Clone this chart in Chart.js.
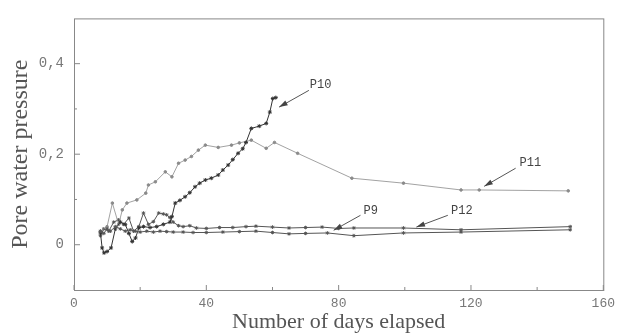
<!DOCTYPE html>
<html>
<head>
<meta charset="utf-8">
<script src="https://cdn.jsdelivr.net/npm/chart.js@4.4.0/dist/chart.umd.min.js"></script>
<style>
  html, body { margin: 0; padding: 0; background: #fff; }
  #wrap { width: 621px; height: 335px; }
</style>
</head>
<body>
<div id="wrap"><canvas id="pwp-chart" width="621" height="335"></canvas></div>
<script>
// readings (days, pore water pressure)
const p9Days = [8, 9, 10, 11, 12.5, 14, 15.5, 17, 18.5, 20, 22, 24, 26, 28, 30, 33, 36, 40, 45, 50, 55, 60, 65, 70, 76.6, 84.6, 99.6, 117, 150];
const p9Values = [0.03, 0.025, 0.035, 0.03, 0.04, 0.035, 0.03, 0.033, 0.03, 0.028, 0.03, 0.028, 0.03, 0.029, 0.028, 0.028, 0.027, 0.027, 0.028, 0.029, 0.03, 0.027, 0.024, 0.025, 0.026, 0.02, 0.026, 0.028, 0.033];

const p10Days = [8, 8.5, 9.1, 10, 11.2, 12.5, 14, 15.5, 16.6, 17.6, 18.6, 19.6, 21, 23, 25, 27, 29, 29.6, 30.6, 32, 33.6, 35, 36.6, 38, 39.7, 41.5, 43.6, 45, 46.6, 48, 49.6, 51, 52, 53.6, 56, 58.1, 59.2, 60.1, 61];
const p10Values = [0.026, -0.007, -0.018, -0.015, -0.007, 0.035, 0.05, 0.045, 0.025, 0.007, 0.015, 0.037, 0.04, 0.038, 0.04, 0.045, 0.05, 0.062, 0.092, 0.098, 0.106, 0.115, 0.128, 0.136, 0.143, 0.147, 0.154, 0.165, 0.176, 0.188, 0.202, 0.212, 0.226, 0.257, 0.262, 0.268, 0.293, 0.323, 0.325];

const p11Days = [8, 10, 11.6, 13.5, 14.6, 16, 19, 21.7, 22.5, 24.6, 27.6, 29.6, 31.6, 33.6, 35.5, 37.6, 39.7, 43.6, 47.6, 50, 53.6, 58.1, 60.6, 67.6, 84, 99.6, 117, 122.5, 149.4];
const p11Values = [0.03, 0.04, 0.092, 0.045, 0.077, 0.092, 0.099, 0.114, 0.132, 0.139, 0.161, 0.15, 0.18, 0.187, 0.195, 0.209, 0.22, 0.215, 0.22, 0.225, 0.231, 0.213, 0.226, 0.202, 0.147, 0.136, 0.121, 0.121, 0.119];

const p12Days = [8, 9, 10.5, 12, 13.5, 15, 16.6, 18, 19.6, 21, 22.5, 24, 25.6, 27, 28, 29, 30, 31.6, 33, 35, 37, 40, 44, 48, 52, 55, 60, 65, 70, 75, 80, 84.6, 99.6, 117, 150];
const p12Values = [0.02, 0.035, 0.03, 0.05, 0.055, 0.045, 0.059, 0.03, 0.04, 0.07, 0.045, 0.051, 0.07, 0.068, 0.066, 0.06, 0.05, 0.042, 0.04, 0.042, 0.037, 0.036, 0.038, 0.038, 0.04, 0.041, 0.039, 0.037, 0.038, 0.039, 0.036, 0.037, 0.037, 0.033, 0.04];

const xTicks = [0, 40, 80, 120, 160];
const xMinorTicks = [20, 60, 100, 140];
const yTicks = [0, 0.2, 0.4];
const yTickLabels = ['0', '0,2', '0,4'];
const yMinorTicks = [0.1, 0.3];

// label text, text anchor, arrow tail, arrow tip (data units)
const labelNames = ['P10', 'P11', 'P9', 'P12'];
const labelAt = [[71.3, 0.354], [134.7, 0.18], [87.5, 0.074], [114, 0.074]];
const arrowFrom = [[71, 0.341], [133.5, 0.169], [86.6, 0.065], [113, 0.065]];
const arrowTo = [[62, 0.304], [124, 0.129], [78.5, 0.032], [103.5, 0.039]];

function pts(days, vals) {
  return days.map((d, i) => ({ x: d, y: vals[i] }));
}

const framePlugin = {
  id: 'frame',
  afterDraw(chart) {
    const { ctx, chartArea: a, scales: { x, y } } = chart;
    ctx.save();
    ctx.strokeStyle = '#888';
    ctx.lineWidth = 1;
    ctx.strokeRect(a.left + 0.5, a.top + 0.5, a.right - a.left, a.bottom - a.top);

    // inward ticks
    ctx.beginPath();
    xTicks.forEach(v => { const px = x.getPixelForValue(v); ctx.moveTo(px, a.bottom); ctx.lineTo(px, a.bottom - 5); });
    xMinorTicks.forEach(v => { const px = x.getPixelForValue(v); ctx.moveTo(px, a.bottom); ctx.lineTo(px, a.bottom - 3); });
    yTicks.forEach(v => { const py = y.getPixelForValue(v); ctx.moveTo(a.left, py); ctx.lineTo(a.left + 6, py); });
    yMinorTicks.forEach(v => { const py = y.getPixelForValue(v); ctx.moveTo(a.left, py); ctx.lineTo(a.left + 3, py); });
    ctx.stroke();

    // series labels with arrows
    ctx.fillStyle = '#444';
    ctx.strokeStyle = '#555';
    ctx.font = '12px "Liberation Mono", monospace';
    ctx.textBaseline = 'middle';
    labelNames.forEach((name, i) => {
      const tx = x.getPixelForValue(labelAt[i][0]);
      const ty = y.getPixelForValue(labelAt[i][1]);
      ctx.fillText(name, tx, ty);
      const fx = x.getPixelForValue(arrowFrom[i][0]), fy = y.getPixelForValue(arrowFrom[i][1]);
      const ex = x.getPixelForValue(arrowTo[i][0]), ey = y.getPixelForValue(arrowTo[i][1]);
      ctx.beginPath();
      ctx.moveTo(fx, fy);
      ctx.lineTo(ex, ey);
      ctx.stroke();
      const ang = Math.atan2(ey - fy, ex - fx);
      ctx.beginPath();
      ctx.moveTo(ex, ey);
      ctx.lineTo(ex - 9 * Math.cos(ang - 0.3), ey - 9 * Math.sin(ang - 0.3));
      ctx.lineTo(ex - 9 * Math.cos(ang + 0.3), ey - 9 * Math.sin(ang + 0.3));
      ctx.closePath();
      ctx.fill();
    });
    ctx.restore();
  }
};

function series(label, days, vals, color, width, radius, style) {
  return {
    label,
    data: pts(days, vals),
    borderColor: color,
    backgroundColor: color,
    borderWidth: width,
    pointRadius: radius,
    pointStyle: style,
    pointBorderWidth: 1,
    tension: 0
  };
}

new Chart(document.getElementById('pwp-chart'), {
  type: 'line',
  data: {
    datasets: [
      series('P9', p9Days, p9Values, '#555', 1, 1.8, 'star'),
      series('P10', p10Days, p10Values, '#333', 1, 2, 'star'),
      series('P11', p11Days, p11Values, '#8a8a8a', 0.8, 1.3, 'circle'),
      series('P12', p12Days, p12Values, '#555', 1, 1.8, 'star')
    ]
  },
  options: {
    responsive: false,
    animation: false,
    layout: { padding: { top: 18, right: 15, left: 0, bottom: 0 } },
    plugins: {
      legend: { display: false },
      tooltip: { enabled: false }
    },
    scales: {
      x: {
        type: 'linear',
        min: 0,
        max: 160,
        grid: { display: false, drawTicks: false },
        border: { display: false },
        afterBuildTicks: s => { s.ticks = xTicks.map(v => ({ value: v })); },
        afterFit: s => { s.height = 45; },
        ticks: {
          color: '#777',
          padding: 6,
          maxRotation: 0,
          font: { family: '"Liberation Mono", monospace', size: 13 }
        },
        title: {
          display: true,
          text: 'Number of days elapsed',
          color: '#555',
          padding: { top: 0, bottom: 0 },
          font: { family: '"Liberation Serif", serif', size: 22 }
        }
      },
      y: {
        min: -0.1,
        max: 0.5,
        grid: { display: false, drawTicks: false },
        border: { display: false },
        afterBuildTicks: s => { s.ticks = yTicks.map(v => ({ value: v })); },
        afterFit: s => { s.width = 74; },
        ticks: {
          color: '#777',
          padding: 10,
          font: { family: '"Liberation Mono", monospace', size: 14 },
          callback: v => yTickLabels[yTicks.indexOf(v)]
        },
        title: {
          display: true,
          text: 'Pore water pressure',
          color: '#555',
          padding: { top: 6, bottom: 0 },
          font: { family: '"Liberation Serif", serif', size: 24 }
        }
      }
    }
  },
  plugins: [framePlugin]
});
</script>
</body>
</html>
